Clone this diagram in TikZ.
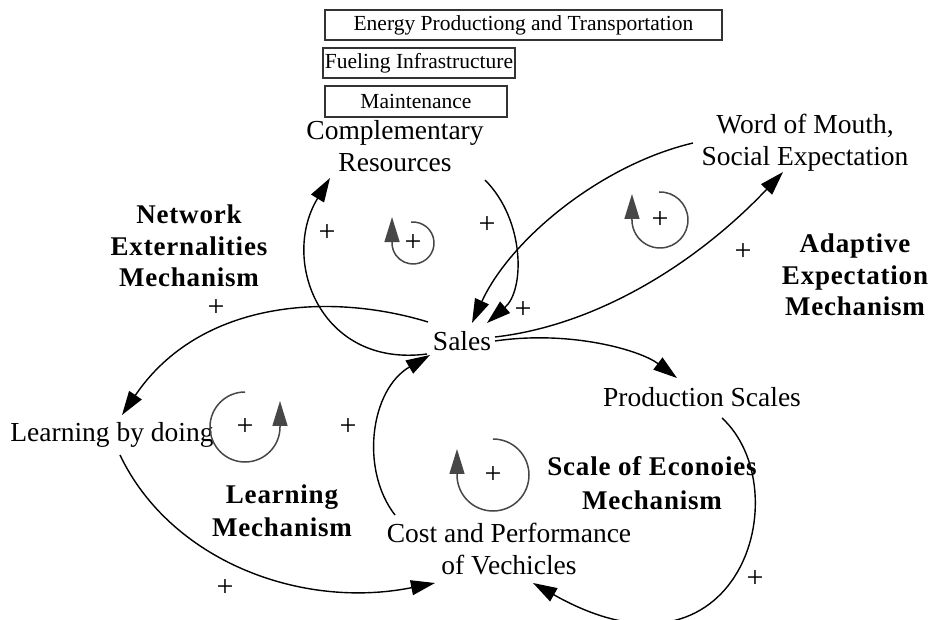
\documentclass[tikz,border=0pt]{standalone}
\usepackage{fontspec}
\setmainfont{Liberation Serif}
\newfontfamily\mechfont[LetterSpace=3]{Liberation Serif}
\usetikzlibrary{arrows.meta,calc}
\begin{document}
\begin{tikzpicture}[x=1pt,y=-1pt,
 var/.style={font=\fontsize{27.5}{32}\selectfont, align=center, inner sep=0pt},
 mech/.style={font=\mechfont\fontsize{27}{31.5}\selectfont\bfseries, align=center, inner sep=0pt},
 sign/.style={font=\fontsize{30}{30}\selectfont, inner sep=0pt},
 resbox/.style={draw=black!80, line width=1.2pt, minimum height=30pt, inner sep=0pt, font=\fontsize{21.5}{23}\selectfont},
 link/.style={line width=1.4pt, -{Triangle[length=24pt,width=15pt]}},
 loopsym/.style={draw=black!72, line width=1.5pt, -{Triangle[length=25pt,width=15pt]}},
]
\useasboundingbox (0,0) rectangle (930,620);
\fill[white] (0,0) rectangle (930,620);

% boxes
\node[resbox, minimum width=397pt] (energy) at (523.5,25) {Energy Productiong and Transportation};
\node[resbox, minimum width=192pt] (fuel) at (419,63) {Fueling Infrastructure};
\node[resbox, minimum width=182pt, minimum height=31pt] (maint) at (416,101.5) {Maintenance};

% variables
\node[var] (comp) at (395,146) {Complementary\\Resources};
\node[var] (wom) at (805,143) {Word of Mouth,\\Social Expectation};
\node[var] (sales) at (462,341) {Sales};
\node[var] (prod) at (702,397) {Production Scales};
\node[var] (learn) at (112,435) {Learning by doing};
\node[var] (cost) at (509,549) {Cost and Performance\\of Vechicles};

% mechanisms
\node[mech] (netmech) at (189,246) {Network\\Externalities\\Mechanism};
\node[mech] (adapmech) at (855,275) {Adaptive\\Expectation\\Mechanism};
\node[mech] (learnmech) at (282,511) {Learning\\[2pt]Mechanism};
\node[mech] (scalemech) at (652,483) {Scale of Econoies\\[3pt]Mechanism};

% polarity signs
\node[sign] (p1) at (327,233) {+};
\node[sign] (p2) at (487,225) {+};
\node[sign] (p3) at (523,310) {+};
\node[sign] (p4) at (216,308) {+};
\node[sign] (p5) at (743,252) {+};
\node[sign] (p6) at (348,427) {+};
\node[sign] (p7) at (225,588) {+};
\node[sign] (p8) at (755,579) {+};

% loop signs
\node[sign] (l1) at (413,243) {+};
\node[sign] (l2) at (660,220) {+};
\node[sign] (l3) at (245,427) {+};
\node[sign] (l4) at (493,475) {+};

\draw[loopsym] ($(l1)+(-1.8,-20.9)$) arc[start angle=265,end angle=540,radius=21] -- ++(0,-26);
\draw[loopsym] ($(l2)+(-1,-28)$) arc[start angle=268,end angle=540,radius=28] -- ++(0,-26);
\draw[loopsym] ($(l3)+(0,-35)$) arc[start angle=270,end angle=0,radius=35] -- ++(0,-26);
\draw[loopsym] ($(l4)+(0,-36)$) arc[start angle=270,end angle=540,radius=36] -- ++(0,-26);

% causal links
\draw[link] ($(sales)+(-35,13)$) .. controls (320,368) and (280,260) .. ($(comp)+(-65,32)$);
\draw[link] ($(comp)+(90,34)$) .. controls (525,220) and (525,290) .. ($(sales)+(25,-18)$);
\draw[link] ($(wom)+(-112,0)$) .. controls (600,165) and (510,240) .. ($(sales)+(10,-18)$);
\draw[link] ($(sales)+(33,-4)$) .. controls (600,325) and (700,260) .. ($(wom)+(-22,29)$);
\draw[link] ($(sales)+(33,0)$) .. controls (570,330) and (640,350) .. ($(prod)+(-25,-19)$);
\draw[link] ($(sales)+(-34,-19)$) .. controls (330,292) and (200,300) .. ($(learn)+(10,-20)$);
\draw[link] ($(learn)+(8,20)$) .. controls (170,560) and (300,610) .. ($(cost)+(-74,34)$);
\draw[link] ($(cost)+(-114,-34)$) .. controls (360,470) and (370,390) .. ($(sales)+(-32,14)$);
\draw[link] ($(prod)+(20,21)$) .. controls (800,490) and (740,700) .. ($(cost)+(24,34)$);
\end{tikzpicture}
\end{document}
